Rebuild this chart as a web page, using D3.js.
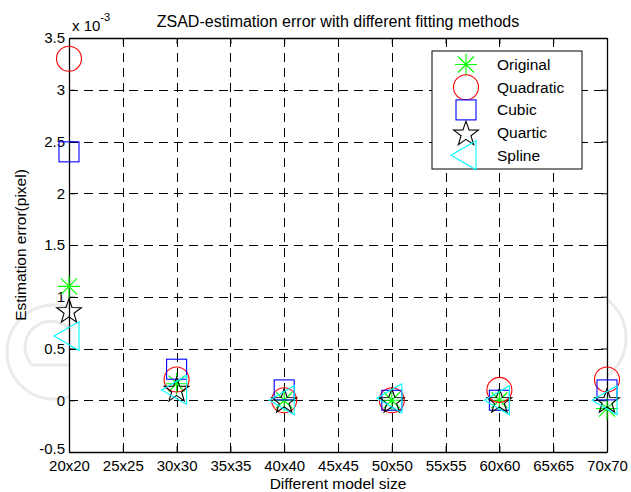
<!DOCTYPE html>
<html>
<head>
<meta charset="utf-8">
<script src="https://cdn.jsdelivr.net/npm/d3@7"></script>
<style>
  html, body { margin: 0; padding: 0; background: #fff; }
  svg { display: block; font-family: "Liberation Sans", Arial, sans-serif; }
</style>
</head>
<body>
<svg id="chart" width="631" height="492"></svg>
<script>
// Model sizes (n for an n x n model)
const sizes = [20, 30, 40, 50, 60, 70];
const tickSizes = [20, 25, 30, 35, 40, 45, 50, 55, 60, 65, 70];
const yTicks = [-0.5, 0, 0.5, 1, 1.5, 2, 2.5, 3, 3.5];

// Estimation error (x 10^-3 pixel) per fitting method
const original  = [1.10, 0.16, 0.00, 0.00, 0.00, -0.08];
const quadratic = [3.30, 0.20, 0.00, 0.00, 0.10, 0.20];
const cubic     = [2.40, 0.30, 0.10, 0.00, 0.00, 0.10];
const quartic   = [0.87, 0.11, 0.00, 0.00, 0.00, 0.00];
const spline    = [0.62, 0.10, 0.00, 0.02, 0.00, 0.00];

const methods = [
  { name: "Original",  values: original,  color: "#00ff00", shape: "asterisk" },
  { name: "Quadratic", values: quadratic, color: "#ff0000", shape: "circle" },
  { name: "Cubic",     values: cubic,     color: "#0000ff", shape: "square" },
  { name: "Quartic",   values: quartic,   color: "#000000", shape: "star" },
  { name: "Spline",    values: spline,    color: "#00ffff", shape: "triangle" }
];

const svg = d3.select("#chart");
const L = 69, R = 607, T = 38, B = 452;
const x = d3.scaleLinear().domain([20, 70]).range([L, R]);
const y = d3.scaleLinear().domain([-0.5, 3.5]).range([B, T]);

// faint background emblem
const wm = svg.append("g").attr("fill", "none").attr("stroke", "#eaeaea").attr("stroke-width", 3);
wm.append("circle").attr("cx", 54).attr("cy", 352).attr("r", 47);
wm.append("path").attr("d", "M 32 365 L 76 365 M 32 365 A 26 26 0 1 1 76 340");
wm.append("circle").attr("cx", 578).attr("cy", 338).attr("r", 48);

// plot area
svg.append("rect").attr("x", L).attr("y", T).attr("width", R - L).attr("height", B - T)
  .attr("fill", "#fff");

// dashed grid
const grid = svg.append("g").attr("stroke", "#000").attr("stroke-width", 1)
  .attr("stroke-dasharray", "9,6").attr("shape-rendering", "crispEdges");
grid.selectAll("line.v").data(tickSizes.slice(1, -1)).join("line")
  .attr("x1", d => Math.round(x(d)) + 0.5).attr("x2", d => Math.round(x(d)) + 0.5)
  .attr("y1", B).attr("y2", T);
grid.selectAll("line.h").data(yTicks.slice(1, -1)).join("line")
  .attr("y1", d => Math.round(y(d)) + 0.5).attr("y2", d => Math.round(y(d)) + 0.5)
  .attr("x1", L).attr("x2", R);

// axes with inward ticks
const fmtSize = d => d + "x" + d;
const xAxisB = d3.axisBottom(x).tickValues(tickSizes).tickFormat(fmtSize).tickSizeInner(-6).tickSizeOuter(0).tickPadding(8);
const xAxisT = d3.axisTop(x).tickValues(tickSizes).tickFormat("").tickSizeInner(-6).tickSizeOuter(0);
const yAxisL = d3.axisLeft(y).tickValues(yTicks).tickFormat(d => String(d)).tickSizeInner(-6).tickSizeOuter(0).tickPadding(4);
const yAxisR = d3.axisRight(y).tickValues(yTicks).tickFormat("").tickSizeInner(-6).tickSizeOuter(0);

function styleAxis(g) {
  g.select(".domain").attr("stroke", "#000").attr("stroke-width", 1.3);
  g.selectAll(".tick line").attr("stroke", "#000");
  g.selectAll(".tick text").attr("fill", "#000").attr("font-size", 15)
    .attr("font-family", "'Liberation Sans', Arial, sans-serif");
}
svg.append("g").attr("transform", `translate(0,${B})`).call(xAxisB).call(styleAxis);
svg.append("g").attr("transform", `translate(0,${T})`).call(xAxisT).call(styleAxis);
const gy = svg.append("g").attr("transform", `translate(${L},0)`).call(yAxisL).call(styleAxis);
// lift the bottom y label a little so it clears the first x label
gy.selectAll(".tick text").filter(d => d === -0.5).attr("dy", "0.12em");

svg.append("g").attr("transform", `translate(${R},0)`).call(yAxisR).call(styleAxis);

// marker shapes
function drawMarker(g, shape, color, cx, cy) {
  const m = g.append("g").attr("transform", `translate(${cx},${cy})`)
    .attr("fill", "none").attr("stroke", color).attr("stroke-width", 1.1);
  if (shape === "circle") {
    m.append("circle").attr("r", 12.5);
  } else if (shape === "square") {
    m.append("rect").attr("x", -10).attr("y", -10).attr("width", 20).attr("height", 20);
  } else if (shape === "asterisk") {
    const r = 11, d = 8;
    m.append("path").attr("d",
      `M0 ${-r}V${r}M${-r} 0H${r}M${-d} ${-d}L${d} ${d}M${-d} ${d}L${d} ${-d}`);
  } else if (shape === "star") {
    const ro = 13, ri = 5.2, pts = [];
    for (let i = 0; i < 10; i++) {
      const a = -Math.PI / 2 + i * Math.PI / 5;
      const rr = i % 2 === 0 ? ro : ri;
      pts.push([rr * Math.cos(a), rr * Math.sin(a) + 1.5]);
    }
    m.append("path").attr("d", "M" + pts.map(p => p.join(",")).join("L") + "Z");
  } else if (shape === "triangle") {
    m.append("path").attr("d", "M-15,0L10,-14.5L10,14.5Z");
  }
}

const marks = svg.append("g");
methods.forEach(mth => {
  mth.values.forEach((v, i) => drawMarker(marks, mth.shape, mth.color, x(sizes[i]), y(v)));
});

// legend
const lg = svg.append("g");
lg.append("rect").attr("x", 432).attr("y", 51).attr("width", 150).attr("height", 118)
  .attr("fill", "#fff").attr("stroke", "#000").attr("stroke-width", 1);
methods.forEach((mth, i) => {
  const cy = 64.5 + i * 22.7;
  drawMarker(lg, mth.shape, mth.color, 466, cy);
  lg.append("text").attr("x", 497).attr("y", cy).attr("dy", "0.35em")
    .attr("font-size", 15.5).text(mth.name);
});

// titles
svg.append("text").attr("x", (L + R) / 2).attr("y", 27).attr("text-anchor", "middle")
  .attr("font-size", 16).text("ZSAD-estimation error with different fitting methods");
svg.append("text").attr("x", (L + R) / 2).attr("y", 489).attr("text-anchor", "middle")
  .attr("font-size", 15.5).text("Different model size");
svg.append("text").attr("transform", `translate(26,${(T + B) / 2}) rotate(-90)`)
  .attr("text-anchor", "middle").attr("font-size", 15.5).text("Estimation error(pixel)");

// exponent label
const ex = svg.append("text").attr("x", 72).attr("y", 31).attr("font-size", 15);
ex.append("tspan").text("x 10");
ex.append("tspan").attr("dy", -10).attr("font-size", 11).text("-3");
</script>
</body>
</html>
